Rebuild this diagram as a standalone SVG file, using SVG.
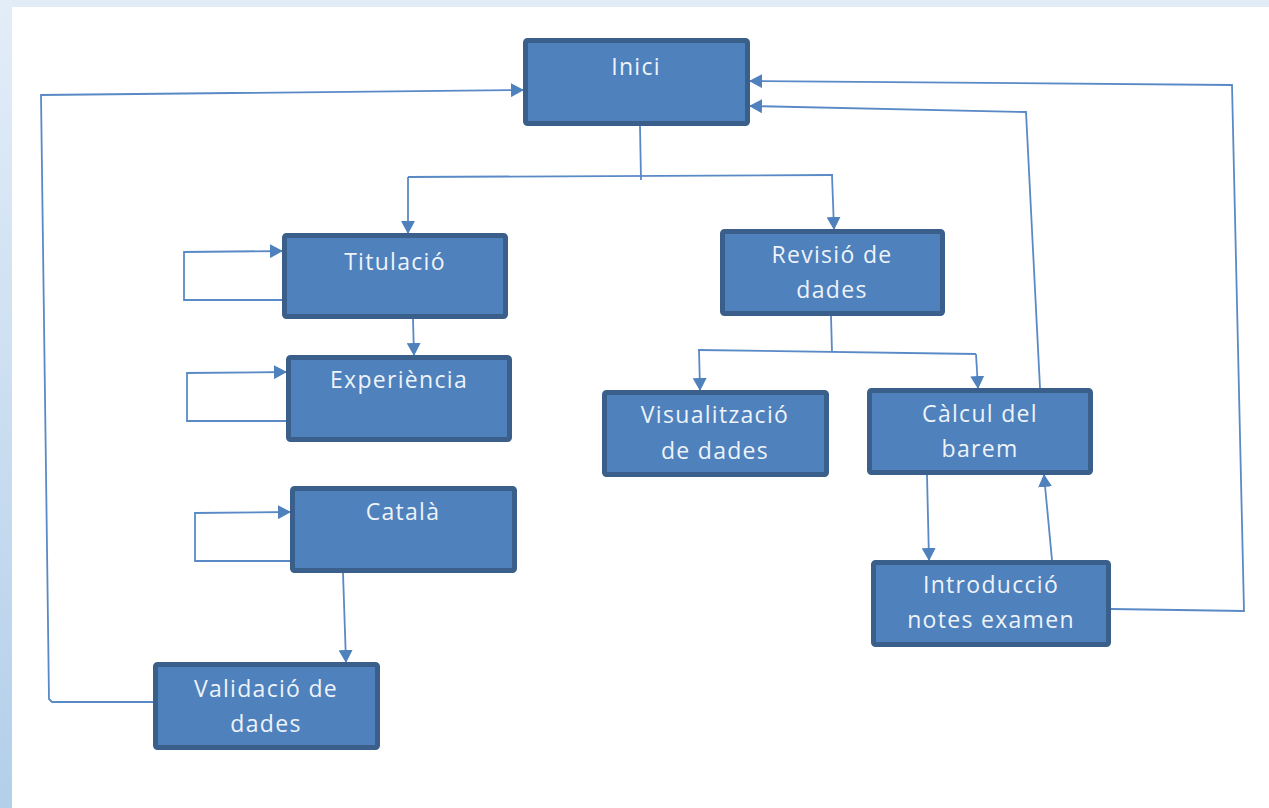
<svg xmlns="http://www.w3.org/2000/svg" width="1269" height="808" viewBox="0 0 1269 808">
<defs>
<linearGradient id="lg" x1="0" y1="0" x2="0" y2="1">
<stop offset="0" stop-color="#e3edf8"/>
<stop offset="1" stop-color="#b3cfea"/>
</linearGradient>
<marker id="ah" viewBox="0 0 13 14" refX="12" refY="7" markerWidth="13" markerHeight="14" markerUnits="userSpaceOnUse" orient="auto">
<path d="M0,0 L13,7 L0,14 Z" fill="#4f81bd"/>
</marker>
<style>
.box{fill:#4f81bd;stroke:#3a5f8b;stroke-width:5}
.lbl{font-family:"Open Sans","Liberation Sans",sans-serif;font-size:23px;font-weight:500;fill:#eef3f9;text-anchor:middle;letter-spacing:1.3px}
.c{fill:none;stroke:#5a8ac6;stroke-width:1.8}
.a{marker-end:url(#ah)}
</style>
</defs>
<rect width="1269" height="808" fill="#ffffff"/>
<rect x="0" y="0" width="1269" height="7" fill="#e2ecf7"/>
<rect x="0" y="0" width="12" height="808" fill="url(#lg)"/>

<g id="connectors">
<path class="c" d="M640,126 L641,180"/>
<path class="c" d="M408,177 L833,175"/>
<path class="c a" d="M408,177 L408,233"/>
<path class="c a" d="M832,175 L834,229"/>
<path class="c a" d="M282,300 L184,300 L184,252 L282,251"/>
<path class="c a" d="M413,319 L414,355"/>
<path class="c a" d="M286,421 L187,421 L187,373 L286,372"/>
<path class="c a" d="M290,561 L195,561 L195,513 L290,512"/>
<path class="c a" d="M343,573 L346,662"/>
<path class="c a" d="M153,702 L52,702 L49,699 L41,95 L523,90"/>
<path class="c" d="M831,316 L832,352"/>
<path class="c" d="M698,350 L976,354"/>
<path class="c a" d="M699,350 L700,390"/>
<path class="c a" d="M976,354 L978,388"/>
<path class="c a" d="M1040,388 L1026,112 L750,106"/>
<path class="c a" d="M1111,609 L1244,611 L1232,85 L750,81"/>
<path class="c a" d="M927,475 L929,560"/>
<path class="c a" d="M1052,560 L1044,475"/>
</g>

<g id="inici"><rect class="box" x="525.5" y="40.5" width="222" height="83" rx="2"/><text class="lbl" x="636" y="75">Inici</text></g>
<g id="titulacio"><rect class="box" x="284.5" y="235.5" width="221" height="81" rx="2"/><text class="lbl" x="395" y="270">Titulació</text></g>
<g id="revisio"><rect class="box" x="722.5" y="231.5" width="220" height="82" rx="2"/><text class="lbl" x="832" y="263">Revisió de</text><text class="lbl" x="832" y="298">dades</text></g>
<g id="experiencia"><rect class="box" x="288.5" y="357.5" width="221" height="82" rx="2"/><text class="lbl" x="399" y="388">Experiència</text></g>
<g id="visualitzacio"><rect class="box" x="604.5" y="392.5" width="222" height="82" rx="2"/><text class="lbl" x="715" y="423">Visualització</text><text class="lbl" x="715" y="459">de dades</text></g>
<g id="calcul"><rect class="box" x="869.5" y="390.5" width="221" height="82" rx="2"/><text class="lbl" x="980" y="422">Càlcul del</text><text class="lbl" x="980" y="457">barem</text></g>
<g id="catala"><rect class="box" x="292.5" y="488.5" width="222" height="82" rx="2"/><text class="lbl" x="403" y="520">Català</text></g>
<g id="introduccio"><rect class="box" x="873.5" y="562.5" width="235" height="82" rx="2"/><text class="lbl" x="991" y="593">Introducció</text><text class="lbl" x="991" y="628">notes examen</text></g>
<g id="validacio"><rect class="box" x="155.5" y="664.5" width="222" height="83" rx="2"/><text class="lbl" x="266" y="697">Validació de</text><text class="lbl" x="266" y="732">dades</text></g>
</svg>
